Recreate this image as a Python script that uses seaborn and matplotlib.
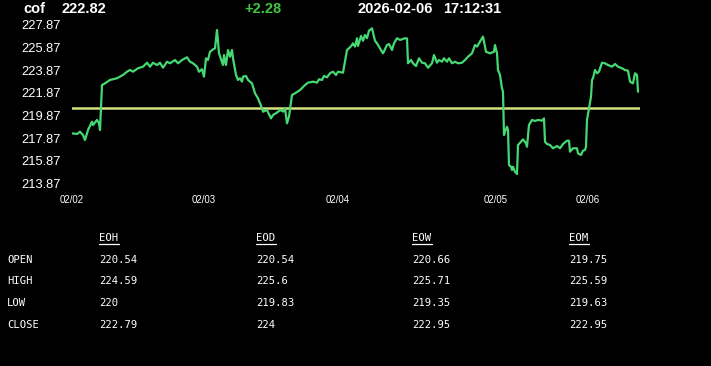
import matplotlib
matplotlib.use("Agg")
import matplotlib.pyplot as plt
import seaborn as sns
from matplotlib.lines import Line2D

# ---------------- data ----------------
symbol = "cof"
last_price = "222.82"
change = "+2.28"
stamp_date = "2026-02-06"
stamp_time = "17:12:31"
prev_close = 220.54

bars = [0, 5, 8, 11, 13, 16, 20, 21, 25, 27,
        28, 30, 33, 38, 45, 51, 55, 58, 61, 66,
        71, 75, 78, 81, 85, 88, 91, 95, 98, 103,
        106, 110, 115, 118, 121, 125, 127, 130, 132, 134,
        136, 138, 141, 143, 145, 147, 151, 152, 154, 156,
        158, 160, 161, 164, 166, 168, 170, 171, 174, 176,
        180, 183, 186, 190, 191, 195, 199, 201, 204, 206,
        209, 211, 213, 215, 217, 220, 223, 228, 233, 236,
        241, 245, 247, 250, 252, 255, 258, 261, 264, 266,
        271, 275, 278, 280, 281, 283, 285, 286, 289, 291,
        293, 295, 297, 300, 303, 305, 307, 310, 311, 315,
        317, 320, 322, 325, 328, 333, 335, 336, 339, 341,
        344, 347, 350, 353, 356, 360, 362, 365, 367, 370,
        372, 375, 377, 380, 383, 386, 390, 393, 396, 400,
        403, 405, 408, 411, 414, 418, 422, 423, 425, 426,
        428, 430, 431, 432, 433, 435, 436, 437, 439, 440,
        441, 443, 445, 446, 449, 451, 454, 455, 457, 460,
        463, 466, 470, 472, 473, 475, 478, 481, 485, 488,
        491, 495, 497, 498, 501, 505, 506, 509, 511, 513,
        514, 515, 517, 519, 520, 521, 523, 525, 527, 530,
        533, 536, 540, 543, 546, 550, 553, 556, 558, 561,
        563, 565, 566]

prices = [218.31, 218.25, 218.45, 218.16, 217.72, 218.60, 219.34, 219.04, 219.49, 219.19,
          218.60, 222.57, 222.72, 223.02, 223.17, 223.46, 223.75, 223.90, 223.75, 224.05,
          224.19, 224.54, 224.19, 224.54, 224.34, 224.54, 224.10, 224.63, 224.49, 224.78,
          224.49, 224.78, 225.02, 224.63, 224.49, 224.19, 223.75, 223.96, 223.31, 224.93,
          224.78, 225.51, 225.72, 225.81, 227.43, 225.37, 224.34, 225.22, 224.34, 225.66,
          225.07, 225.66, 224.93, 223.46, 223.02, 223.17, 222.87, 223.31, 223.37, 223.02,
          222.72, 221.84, 221.40, 220.52, 220.22, 220.37, 219.63, 219.93, 220.08, 220.22,
          220.37, 220.22, 220.52, 219.19, 219.78, 221.69, 221.84, 222.13, 222.57, 222.78,
          222.87, 222.78, 223.08, 223.02, 223.37, 223.25, 223.61, 223.75, 223.46, 223.75,
          223.66, 225.66, 225.90, 226.10, 226.25, 225.96, 226.70, 226.02, 226.90, 226.48,
          226.99, 226.70, 227.37, 227.58, 226.48, 226.25, 225.96, 225.51, 225.37, 226.10,
          226.19, 225.66, 226.25, 226.70, 226.55, 226.70, 226.68, 224.49, 224.78, 224.49,
          224.25, 224.93, 224.54, 224.49, 224.10, 224.49, 225.22, 224.54, 224.78, 224.63,
          224.93, 224.63, 224.93, 224.49, 224.63, 224.49, 224.54, 224.78, 225.07, 225.37,
          226.10, 225.96, 226.40, 226.84, 225.51, 225.37, 225.51, 226.10, 225.37, 223.90,
          223.46, 222.28, 221.98, 218.16, 218.45, 218.89, 218.60, 215.51, 215.36, 215.07,
          215.36, 214.92, 214.72, 217.28, 217.57, 217.78, 217.43, 217.13, 219.04, 219.49,
          219.40, 219.49, 219.43, 219.63, 217.57, 217.37, 217.28, 216.99, 217.19, 216.99,
          217.37, 217.66, 217.66, 216.69, 216.99, 216.99, 216.54, 216.40, 216.78, 216.84,
          217.13, 219.49, 220.52, 221.54, 223.02, 223.17, 223.90, 223.61, 223.75, 224.54,
          224.49, 224.34, 224.19, 224.43, 224.19, 224.05, 223.90, 223.84, 222.87, 222.72,
          223.61, 223.46, 221.98]

day_ticks = [0, 132, 266, 424, 516]
day_labels = ["02/02", "02/03", "02/04", "02/05", "02/06"]
y_ticks = [213.87, 215.87, 217.87, 219.87, 221.87, 223.87, 225.87, 227.87]

row_labels = ["OPEN", "HIGH", "LOW", "CLOSE"]
col_labels = ["EOH", "EOD", "EOW", "EOM"]
eoh = ["220.54", "224.59", "220", "222.79"]
eod = ["220.54", "225.6", "219.83", "224"]
eow = ["220.66", "225.71", "219.35", "222.95"]
eom = ["219.75", "225.59", "219.63", "222.95"]

# ---------------- style ----------------
sns.set_style("dark", {"axes.facecolor": "black", "figure.facecolor": "black"})
plt.rcParams["font.family"] = ["Liberation Sans", "DejaVu Sans"]

W, H = 711, 366
fig = plt.figure(figsize=(W / 100, H / 100), dpi=100, facecolor="black")

def fx(px):
    return px / W

def fy(py):
    return 1 - py / H

ax_l, ax_r, ax_t, ax_b = 72, 640, 20, 185
ax = fig.add_axes([fx(ax_l), fy(ax_b), fx(ax_r - ax_l), (ax_b - ax_t) / H])
ax.set_facecolor("black")

LINE_GREEN = "#45d873"
YELLOW = "#d4e07c"

sns.lineplot(x=bars, y=prices, ax=ax, color=LINE_GREEN, linewidth=1.6)
ax.axhline(prev_close, color=YELLOW, linewidth=1.8, zorder=1)

ax.set_xlim(0, 568)
ax.set_ylim(213.75, 228.31)
ax.set_xticks(day_ticks)
ax.set_xticklabels(day_labels)
ax.set_yticks(y_ticks)
ax.set_yticklabels([f"{v:.2f}" for v in y_ticks])
ax.grid(False)
for s in ax.spines.values():
    s.set_visible(False)
ax.set_xlabel("")
ax.set_ylabel("")
ax.tick_params(axis="x", colors="white", length=4, width=1, direction="out",
               labelsize=6.9, pad=3)
ax.tick_params(axis="y", colors="white", length=0, labelsize=9.3, pad=7.9)

# ---------------- header ----------------
hdr = dict(color="white", fontsize=10.5, fontweight="bold", va="center",
           family=["Liberation Sans", "DejaVu Sans"])
fig.text(fx(23), fy(9), symbol, **hdr)
fig.text(fx(62), fy(9), last_price, **hdr)
fig.text(fx(244), fy(9), change, **{**hdr, "color": "#3fc83f"})
fig.text(fx(357), fy(9), stamp_date, **hdr)
fig.text(fx(443), fy(9), stamp_time, **hdr)

# ---------------- table ----------------
mono = dict(color="white", fontsize=7.6, va="center", ha="left",
            family=["DejaVu Sans Mono"])
col_x = [99, 256, 412, 569]
row_y = [260, 281, 303, 325]
hdr_y = 238
for cx, name in zip(col_x, col_labels):
    fig.text(fx(cx), fy(hdr_y), name, **mono)
    fig.add_artist(Line2D([fx(cx), fx(cx + 19.5)], [fy(hdr_y + 5.5), fy(hdr_y + 5.5)],
                          color="white", linewidth=0.9, transform=fig.transFigure))
for ry, lab in zip(row_y, row_labels):
    fig.text(fx(7), fy(ry), lab, **mono)
for cx, col in zip(col_x, [eoh, eod, eow, eom]):
    for ry, val in zip(row_y, col):
        fig.text(fx(cx), fy(ry), val, **mono)

fig.savefig("out.png", dpi=100, facecolor="black")
